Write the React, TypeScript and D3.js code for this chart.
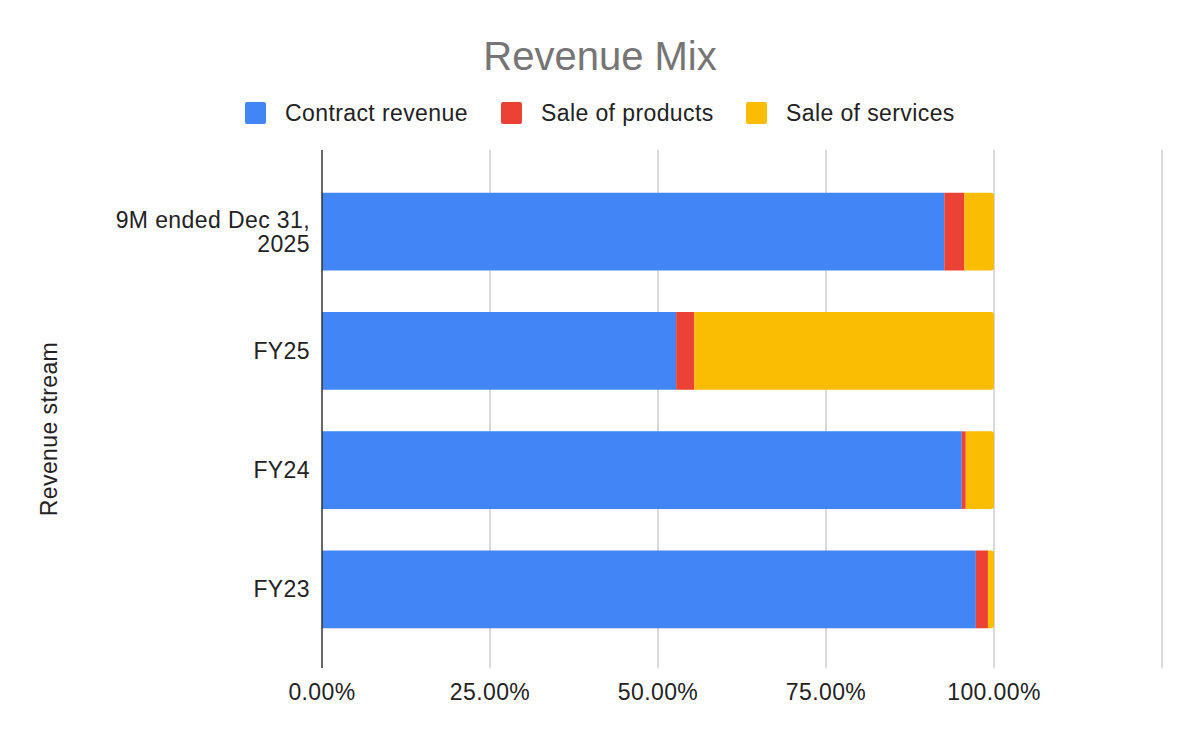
import React, { useRef, useEffect } from "react";
import * as d3 from "d3";

// data (percent of total)
const categories = ["9M ended Dec 31, 2025", "FY25", "FY24", "FY23"];
const categoryLines = [["9M ended Dec 31,", "2025"], ["FY25"], ["FY24"], ["FY23"]];
const seriesNames = ["Contract revenue", "Sale of products", "Sale of services"];
const contractRevenue = [92.6, 52.7, 95.2, 97.3];
const saleOfProducts = [3.0, 2.7, 0.6, 1.8];
const saleOfServices = [4.4, 44.6, 4.2, 0.9];
const xTicks = [0, 25, 50, 75, 100, 125];
const colors = ["#4285f4", "#ea4335", "#fbbc04"];

const App = () => {
  const svgRef = useRef(null);
  const width = 1200, height = 742;
  const margin = { top: 150, right: 38, bottom: 74, left: 322 };

  useEffect(() => {
    const svg = d3.select(svgRef.current);
    svg.selectAll("*").remove();
    const font = "Arial, 'Liberation Sans', sans-serif";
    const fs = "23px", ls = "0.4px";

    const x = d3.scaleLinear().domain([0, 125]).range([margin.left, margin.left + 840]);
    const y = d3.scaleBand().domain(categories).range([172, 649]).paddingInner(0.35).paddingOuter(0.175);

    // title
    svg.append("text")
      .attr("x", 600).attr("y", 70)
      .attr("text-anchor", "middle")
      .style("font-family", font).style("font-size", "40px")
      .style("fill", "#757575")
      .text("Revenue Mix");

    // legend
    const legendX = [245, 501, 746];
    const lg = svg.append("g");
    seriesNames.forEach((name, i) => {
      lg.append("rect")
        .attr("x", legendX[i]).attr("y", 102)
        .attr("width", 21).attr("height", 22).attr("rx", 2)
        .style("fill", colors[i]);
      lg.append("text")
        .attr("x", legendX[i] + 40).attr("y", 121)
        .style("font-family", font).style("font-size", fs)
        .style("letter-spacing", ls)
        .style("fill", "#222")
        .text(name);
    });

    // gridlines
    svg.append("g")
      .selectAll("line")
      .data(xTicks.slice(1))
      .join("line")
      .attr("x1", d => x(d)).attr("x2", d => x(d))
      .attr("y1", margin.top).attr("y2", height - margin.bottom)
      .style("stroke", "#cccccc").style("stroke-width", 1.5);

    // stacked bars
    const rows = categories.map((c, i) => ({
      cat: c,
      "Contract revenue": contractRevenue[i],
      "Sale of products": saleOfProducts[i],
      "Sale of services": saleOfServices[i],
    }));
    const stacked = d3.stack().keys(seriesNames)(rows as any);

    stacked.forEach((layer, li) => {
      svg.append("g")
        .selectAll("path")
        .data(layer)
        .join("path")
        .attr("d", (d: any) => {
          const x0 = x(d[0]), x1 = x(d[1]);
          const y0 = y(d.data.cat)!, h = y.bandwidth();
          const r = li === seriesNames.length - 1 ? Math.min(3, x1 - x0) : 0;
          const p = d3.path();
          p.moveTo(x0, y0);
          p.lineTo(x1 - r, y0);
          if (r > 0) p.quadraticCurveTo(x1, y0, x1, y0 + r);
          p.lineTo(x1, y0 + h - r);
          if (r > 0) p.quadraticCurveTo(x1, y0 + h, x1 - r, y0 + h);
          p.lineTo(x0, y0 + h);
          p.closePath();
          return p.toString();
        })
        .style("fill", colors[li]);
    });

    // zero axis line
    svg.append("line")
      .attr("x1", x(0)).attr("x2", x(0))
      .attr("y1", margin.top).attr("y2", height - margin.bottom)
      .style("stroke", "#333").style("stroke-width", 1.5);

    // x tick labels
    svg.append("g")
      .selectAll("text")
      .data(xTicks.slice(0, 5))
      .join("text")
      .attr("x", d => x(d)).attr("y", 700)
      .attr("text-anchor", "middle")
      .style("font-family", font).style("font-size", fs)
      .style("letter-spacing", ls)
      .style("fill", "#222")
      .text(d => d3.format(".2f")(d) + "%");

    // category labels
    const cg = svg.append("g");
    categories.forEach((c, i) => {
      const lines = categoryLines[i];
      const cy = y(c)! + y.bandwidth() / 2;
      const t = cg.append("text")
        .attr("x", 310)
        .attr("text-anchor", "end")
        .style("font-family", font).style("font-size", fs)
        .style("letter-spacing", ls)
        .style("fill", "#222");
      lines.forEach((ln, j) => {
        t.append("tspan")
          .attr("x", 310)
          .attr("y", cy + 8 + (j - (lines.length - 1) / 2) * 24)
          .text(ln);
      });
    });

    // y axis title
    svg.append("text")
      .attr("transform", `translate(57, 429) rotate(-90)`)
      .attr("text-anchor", "middle")
      .style("font-family", font).style("font-size", fs)
      .style("letter-spacing", ls)
      .style("fill", "#222")
      .text("Revenue stream");
  }, []);

  return (
    <svg ref={svgRef} width={width} height={height}
      style={{ position: "absolute", left: 0, top: 0, background: "#fff" }} />
  );
};

export default App;
